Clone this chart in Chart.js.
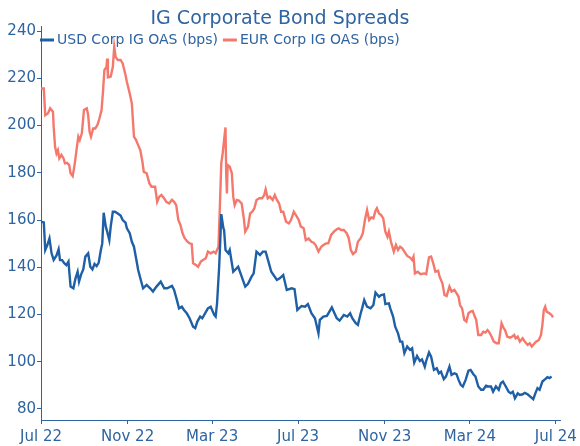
<!DOCTYPE html>
<html>
<head>
<meta charset="utf-8">
<script src="https://cdn.jsdelivr.net/npm/chart.js@4/dist/chart.umd.min.js"></script>
<style>
html, body { margin: 0; padding: 0; background: #fff; }
</style>
</head>
<body>
<canvas id="canvas" width="580" height="446"></canvas>
<script>
// x values are days counted from 1 Jul 2022
const xTickDays = [0, 123, 243, 365, 488, 609, 731];
const xTickLabels = ['Jul 22', 'Nov 22', 'Mar 23', 'Jul 23', 'Nov 23', 'Mar 24', 'Jul 24'];
const yTicks = [80, 100, 120, 140, 160, 180, 200, 220, 240];

const usdDays = [
  0, 4, 6, 9, 12, 15, 18, 22, 25, 27,
  30, 33, 36, 39, 42, 46, 49, 52, 54, 57,
  60, 63, 67, 70, 73, 76, 79, 82, 85, 87,
  89, 92, 94, 97, 99, 102, 105, 109, 113, 116,
  120, 122, 126, 129, 132, 135, 138, 142, 145, 150,
  155, 159, 164, 170, 175, 179, 186, 189, 193, 196,
  200, 203, 207, 211, 216, 219, 222, 226, 229, 233,
  237, 241, 246, 248, 250, 253, 255, 256, 259, 260,
  262, 266, 268, 273, 280, 285, 290, 294, 299, 302,
  306, 311, 315, 319, 323, 327, 335, 339, 344, 349,
  356, 360, 364, 370, 375, 379, 384, 389, 394, 396,
  401, 406, 413, 420, 424, 430, 435, 439, 442, 447,
  450, 454, 456, 459, 463, 468, 472, 475, 480, 483,
  487, 489, 494, 496, 500, 503, 507, 510, 513, 516,
  520, 524, 527, 530, 534, 538, 541, 545, 547, 551,
  554, 558, 562, 565, 568, 572, 575, 580, 583, 587,
  590, 593, 596, 599, 603, 607, 610, 614, 617, 621,
  625, 628, 632, 635, 639, 642, 646, 650, 653, 656,
  660, 664, 667, 670, 673, 677, 680, 684, 687, 691,
  694, 699, 702, 705, 708, 712, 716, 719, 722, 725
];
const usdOas = [
  159.3, 159, 147.3, 149.4, 152.2, 145.9, 143.1, 145, 147.6, 143,
  143, 141.7, 140.9, 142.4, 131.8, 131.1, 135.3, 138.1, 133.9, 137,
  139.1, 144.5, 145.9, 140.2, 139.1, 141.4, 140.5, 142, 147.3, 150.1,
  163.1, 157.2, 155.1, 151.5, 157.2, 163.5, 163.5, 162.8, 161.9, 160,
  158.9, 156.5, 154.4, 150.8, 148.7, 143.8, 138.8, 134.3, 131.1, 132.5,
  131.1, 129.7, 131.8, 133.9, 131.1, 131.1, 132.1, 130.4, 126.1, 122.6,
  123.3, 121.9, 120.5, 118.4, 114.8, 114.2, 117, 119.1, 118.4, 120.5,
  122.6, 123.3, 119.8, 119.1, 124.7, 140.2, 154.4, 162.5, 156.5, 155.8,
  147.3, 145.9, 147.3, 138.1, 140.2, 136, 131.8, 133, 136, 137.4,
  146.6, 145.2, 146.6, 146.6, 142.4, 138.1, 134.6, 135.3, 136.7, 130.4,
  131.1, 130.7, 121.9, 123.6, 123.3, 124.4, 120.5, 118.4, 112, 117.7,
  119.1, 119.4, 123, 118.4, 117.4, 119.8, 119.1, 120.5, 118.4, 116.3,
  115.6, 120.5, 122.6, 126.1, 123.3, 122.6, 124, 129.3, 127.5, 128.2,
  128.5, 124.4, 124.7, 122.6, 119.1, 114.8, 112, 108.5, 108.5, 103.6,
  106.4, 105, 105.7, 99.6, 102.4, 100.3, 101, 97.9, 100.3, 103.9,
  102.1, 96.5, 97.2, 95.1, 95.8, 92.6, 93.7, 97.9, 94.4, 95.1,
  94.7, 92.3, 90.2, 89.5, 92.3, 96.2, 96.5, 94.7, 93.7, 89.5,
  88.1, 88.1, 89.8, 89.5, 89.5, 87.3, 89.5, 88.1, 90.9, 91.6,
  89.5, 87.3, 86.6, 87.3, 84.5, 86.6, 85.9, 86.2, 86.8, 86.2,
  85.4, 84.1, 86.6, 88.8, 88.1, 91.6, 92.6, 93.4, 93, 93.7
];

const eurDays = [
  0, 4, 6, 10, 13, 17, 18, 20, 22, 24,
  26, 29, 32, 34, 37, 40, 42, 45, 48, 51,
  53, 55, 58, 61, 65, 67, 69, 71, 74, 77,
  80, 83, 86, 88, 90, 93, 94, 95, 99, 102,
  104, 106, 109, 113, 116, 120, 122, 126, 129, 132,
  135, 139, 141, 144, 146, 150, 154, 157, 162, 165,
  168, 171, 175, 178, 182, 186, 189, 192, 195, 198,
  201, 204, 208, 211, 214, 216, 220, 223, 227, 230,
  234, 237, 241, 245, 248, 252, 254, 256, 258, 260,
  262, 263, 264, 265, 268, 271, 273, 275, 278, 281,
  285, 288, 290, 294, 297, 300, 303, 306, 310, 314,
  317, 319, 322, 325, 329, 332, 335, 338, 341, 344,
  348, 352, 355, 359, 362, 366, 369, 373, 376, 380,
  384, 387, 390, 394, 398, 401, 405, 408, 412, 416,
  420, 423, 426, 430, 434, 437, 440, 443, 447, 450,
  454, 457, 460, 463, 466, 469, 472, 475, 477, 480,
  483, 486, 489, 492, 494, 497, 501, 504, 507, 510,
  513, 516, 520, 524, 527, 529, 531, 535, 539, 544,
  547, 551, 554, 557, 560, 564, 566, 570, 573, 576,
  580, 583, 587, 590, 593, 595, 598, 601, 604, 607,
  610, 613, 616, 618, 621, 625, 628, 631, 634, 636,
  640, 643, 647, 650, 652, 654, 657, 659, 662, 666,
  669, 672, 674, 677, 680, 684, 687, 691, 694, 697,
  700, 703, 707, 710, 712, 714, 716, 718, 722, 725,
  727
];
const eurOas = [
  215.7, 215.7, 204.4, 205.2, 207.3, 205.9, 199.5, 191, 188.2, 189.6,
  186.1, 187.6, 186.1, 184, 184.2, 183.3, 179.8, 178.6, 184, 191,
  195.3, 193.9, 196.7, 206.6, 207.3, 204.4, 197.4, 195.3, 198.8, 198.8,
  200.2, 203, 206.6, 214.3, 223.5, 224.9, 228.4, 220.4, 220.8, 224.9,
  233.4, 229.1, 227.8, 227.8, 226.3, 221.4, 218.5, 213.6, 209.4, 195.3,
  193.9, 191, 189.6, 184.7, 180.4, 179.8, 175.5, 174.1, 174.1, 167.7,
  169.9, 170.6, 169.1, 167.7, 167, 168.6, 167.7, 166.3, 160, 157.9,
  154.4, 152.3, 150.8, 150.1, 149.9, 141.7, 141, 140.2, 142.4, 143.1,
  143.8, 146.6, 145.9, 146.6, 145.9, 148.7, 165.6, 184, 188.2, 193.9,
  199.2, 179.8, 171.3, 183.3, 182.6, 179.8, 169.9, 166.3, 168.5, 168.2,
  167, 160.7, 155.1, 157.2, 162.8, 163.5, 165, 168.5, 169.2, 169.2,
  170.6, 173, 169.2, 169.9, 168.5, 170.6, 168.5, 167.1, 163.5, 163.5,
  159.3, 158.6, 160, 163.5, 162.1, 160, 157.2, 156.5, 151.5, 152.2,
  150.8, 150.4, 149.4, 146.6, 148.7, 149.4, 150.1, 150.1, 153.7, 155.1,
  156.1, 156.5, 155.8, 155.8, 154.4, 152.3, 147.3, 145.6, 146.6, 150.8,
  152.3, 154.4, 160, 164.2, 160, 161.1, 160.7, 163.9, 165, 162.8,
  162.1, 160.7, 155.1, 152.9, 155.1, 150.8, 146.6, 149.4, 147.3, 148.7,
  148, 146.6, 144.8, 144.1, 143.1, 144.5, 137.4, 138.1, 137.1, 137.4,
  137.1, 144.2, 144.5, 141.7, 138.1, 138.5, 136, 133.2, 128.3, 127.8,
  131.8, 129.7, 130.4, 129, 127.5, 124, 122.6, 117.7, 117, 120.5,
  121.2, 121.5, 119.1, 117.7, 111.3, 111.3, 112.7, 112.3, 113.4, 112.7,
  110.6, 108.5, 107.8, 107.8, 112, 116.3, 114.2, 113.4, 110.6, 110.2,
  110.6, 111.3, 109.9, 110.6, 108.5, 109.9, 108.5, 107.1, 107.8, 106.4,
  107.5, 108.5, 109.2, 111.3, 115.6, 121.9, 123.3, 121.2, 120.5, 119.8,
  118.8
];

const textColor = '#2e64a0';
const usdColor = '#1f5fa6';
const eurColor = '#f4796c';
const fontFamily = '"DejaVu Sans", Verdana, sans-serif';

function toPoints(days, vals) {
  return days.map((d, i) => ({ x: d, y: vals[i] }));
}

// legend drawn over the top-left of the plot, like the original
const overlayLegend = {
  id: 'overlayLegend',
  afterDraw(chart) {
    const ctx = chart.ctx;
    let x = chart.chartArea.left - 1;
    const y = 40;
    ctx.save();
    ctx.font = '14px ' + fontFamily;
    ctx.textBaseline = 'middle';
    chart.data.datasets.forEach(ds => {
      ctx.strokeStyle = ds.borderColor;
      ctx.lineWidth = 3;
      ctx.beginPath();
      ctx.moveTo(x, y);
      ctx.lineTo(x + 14, y);
      ctx.stroke();
      x += 17;
      ctx.fillStyle = textColor;
      ctx.fillText(ds.label, x, y);
      x += ctx.measureText(ds.label).width + 5;
    });
    ctx.restore();
  }
};

const ctx = document.getElementById('canvas').getContext('2d');
new Chart(ctx, {
  type: 'line',
  data: {
    datasets: [
      {
        label: 'USD Corp IG OAS (bps)',
        data: toPoints(usdDays, usdOas),
        borderColor: usdColor,
        borderWidth: 2.4,
        pointRadius: 0,
        tension: 0
      },
      {
        label: 'EUR Corp IG OAS (bps)',
        data: toPoints(eurDays, eurOas),
        borderColor: eurColor,
        borderWidth: 2.4,
        pointRadius: 0,
        tension: 0
      }
    ]
  },
  options: {
    responsive: false,
    animation: false,
    layout: { padding: { left: 0, right: 20, top: 0, bottom: 0 } },
    plugins: {
      legend: { display: false },
      tooltip: { enabled: false },
      title: {
        display: true,
        text: 'IG Corporate Bond Spreads',
        color: textColor,
        font: { family: fontFamily, size: 19, weight: 'normal', lineHeight: 0.8 },
        padding: { top: 11, bottom: 0 }
      }
    },
    scales: {
      x: {
        type: 'linear',
        min: 0,
        max: 737,
        afterBuildTicks: s => { s.ticks = xTickDays.map(v => ({ value: v })); },
        afterFit: s => { s.height = 26; s.paddingRight = 0; s.paddingLeft = 0; },
        ticks: {
          color: textColor,
          font: { family: fontFamily, size: 15 },
          padding: 4,
          maxRotation: 0,
          callback: v => xTickLabels[xTickDays.indexOf(v)]
        },
        grid: { display: true, drawOnChartArea: false, drawTicks: true, tickLength: 4, color: textColor },
        border: { display: true, color: textColor, width: 1 }
      },
      y: {
        min: 75.3,
        max: 242.1,
        afterBuildTicks: s => { s.ticks = yTicks.map(v => ({ value: v })); },
        afterFit: s => { s.width = 41; },
        ticks: {
          color: textColor,
          font: { family: fontFamily, size: 15 },
          padding: 1
        },
        grid: { display: true, drawOnChartArea: false, drawTicks: true, tickLength: 4, color: textColor },
        border: { display: true, color: textColor, width: 1 }
      }
    }
  },
  plugins: [overlayLegend]
});
</script>
</body>
</html>
